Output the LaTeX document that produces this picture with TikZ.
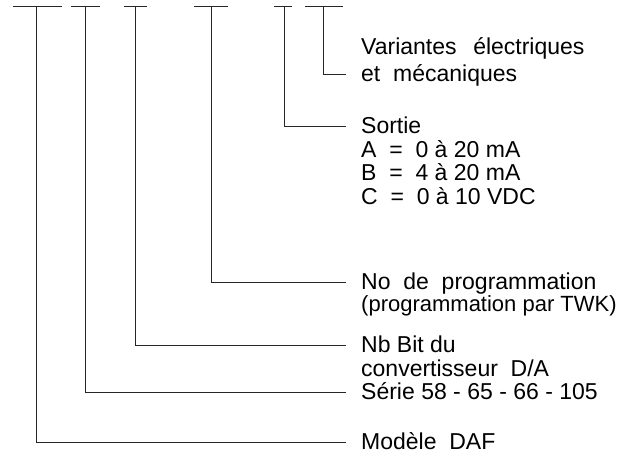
\documentclass[tikz,border=0pt]{standalone}
\usepackage{fontspec}
\setmainfont{Liberation Sans}
\usepackage{tikz}
\usetikzlibrary{positioning}

\begin{document}
\begin{tikzpicture}[
  x=1pt, y=-1pt,
  bar/.style={draw=black!85, line width=1pt},
  lbl/.style={anchor=west, inner xsep=15pt, inner ysep=0pt,
    text height=14pt, text depth=0pt, font=\fontsize{23}{27}\selectfont},
  small/.style={lbl, text height=12pt, font=\fontsize{22}{26}\selectfont},
]
  \useasboundingbox (0,0) rectangle (634,457);

  % top bars, one per code position
  \foreach \n/\x/\l/\r in {1/36/13/62, 2/85/71/100, 3/135/124/147,
                           4/211/194/228, 5/284/274/292, 6/323/305/343}{
    \coordinate (t\n) at (\x,7);
    \draw[bar] (\l,7) -- (\r,7);
  }

  \node[lbl] (etmec) at (346,75) {et\ \ mécaniques};
  \node[lbl, above=13pt of etmec.north west, anchor=south west] (variantes) {Variantes\ \ \,électriques};

  \node[lbl] (sortie) at (346,127) {Sortie};
  \node[lbl, below=9pt of sortie.south west, anchor=north west] (outA) {A\ \ =\ \ 0 à 20 mA};
  \node[lbl, below=9pt of outA.south west, anchor=north west]   (outB) {B\ \ =\ \ 4 à 20 mA};
  \node[lbl, below=9pt of outB.south west, anchor=north west]   (outC) {C\ \ =\ \ 0 à 10 VDC};

  \node[lbl] (noprog) at (346,282) {No\ \ de\ \ programmation};
  \node[small, below=10pt of noprog.south west, anchor=north west] (twk) {(programmation par TWK)};

  \node[lbl] (nbbit) at (346,345) {Nb Bit du};
  \node[lbl, below=10pt of nbbit.south west, anchor=north west] (conv) {convertisseur\ \ D/A};
  \node[lbl] (serie) at (346,392) {Série 58 - 65 - 66 - 105};

  \node[lbl] (modele) at (346,442) {Modèle\ \ DAF};

  \draw[bar] (t6) |- (etmec.west);
  \draw[bar] (t5) |- (sortie.west);
  \draw[bar] (t4) |- (noprog.west);
  \draw[bar] (t3) |- (nbbit.west);
  \draw[bar] (t2) |- (serie.west);
  \draw[bar] (t1) |- (modele.west);
\end{tikzpicture}
\end{document}
